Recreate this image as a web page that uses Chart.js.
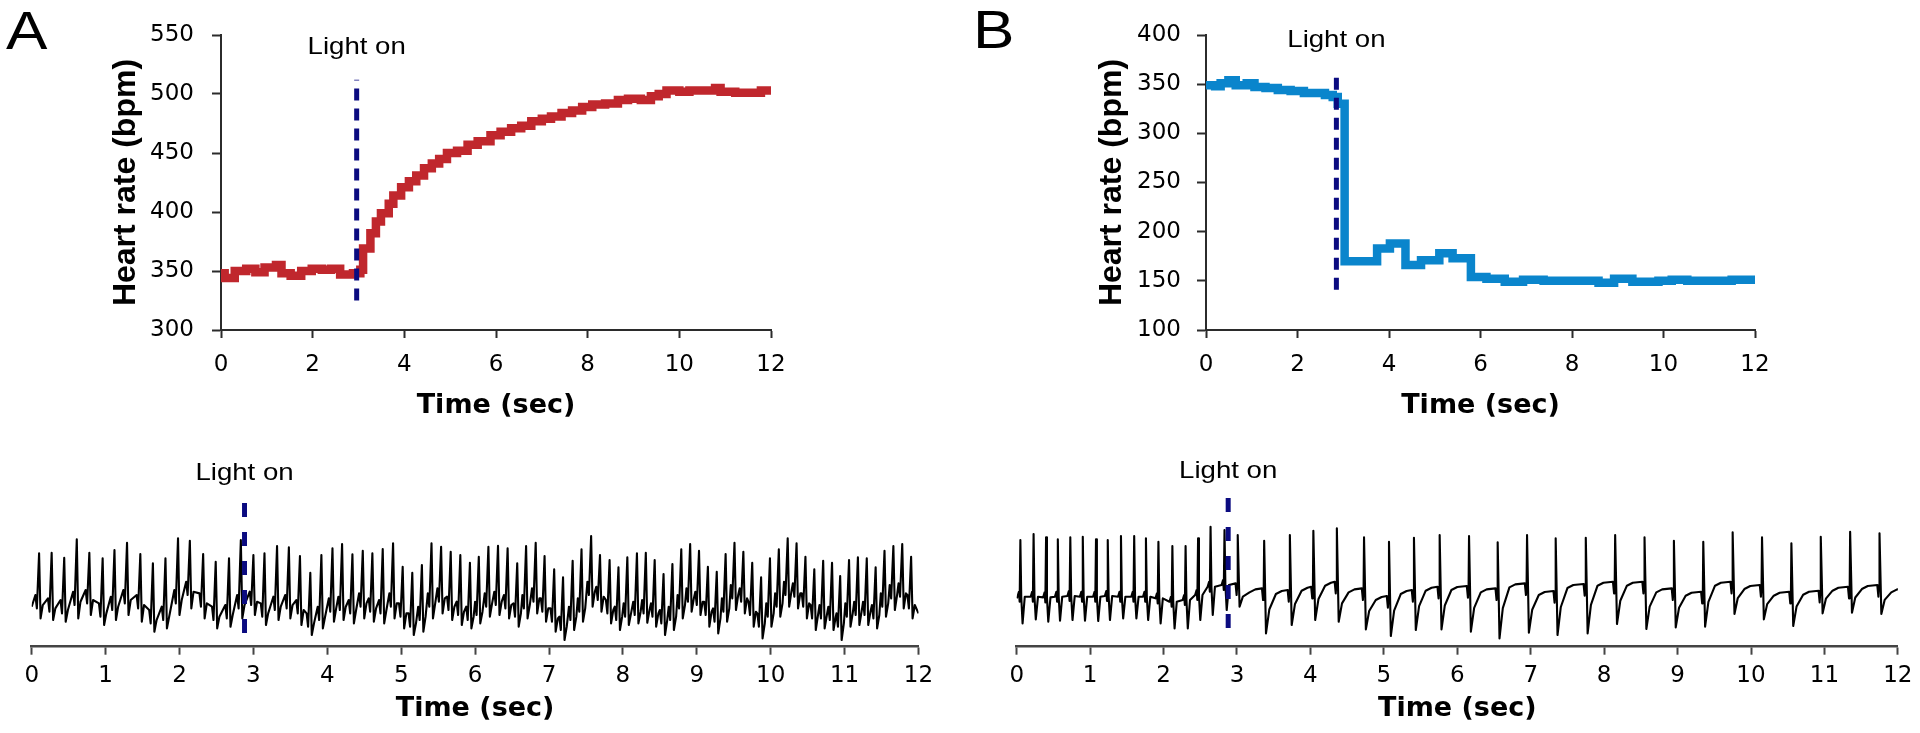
<!DOCTYPE html>
<html>
<head>
<meta charset="utf-8">
<script src="https://cdn.jsdelivr.net/npm/chart.js@4.4.1/dist/chart.umd.min.js"></script>
<style>
    body { margin: 0; background: #fff; width: 1920px; height: 733px; overflow: hidden; position: relative; }
    canvas { position: absolute; }
    .letter {
        position: absolute;
        font: 54px/54px 'Liberation Sans', Arial, sans-serif;
        color: #000;
        transform: scaleX(1.15);
        transform-origin: left top;
    }
</style>
</head>
<body>
<canvas id="hrA" width="960" height="450" style="left:0;top:0"></canvas>
<canvas id="hrB" width="960" height="450" style="left:960px;top:0"></canvas>
<canvas id="ecgA" width="960" height="283" style="left:0;top:450px"></canvas>
<canvas id="ecgB" width="960" height="283" style="left:960px;top:450px"></canvas>
<div class="letter" style="left:6px;top:3px">A</div>
<div class="letter" style="left:973px;top:2px">B</div>
<script>
// ---- heart rate traces (sec, bpm); each value holds until the next time ----
const hrATime = [0, 0.08, 0.3, 0.55, 0.75, 0.95, 1.2, 1.32, 1.52, 1.75, 1.98, 2.2, 2.4, 2.6, 2.88, 3.04,
    3.1, 3.26, 3.38, 3.49, 3.66, 3.76, 3.93, 4.1, 4.26, 4.43, 4.6, 4.76, 4.93, 5.15, 5.38, 5.6, 5.88,
    6.1, 6.33, 6.55, 6.77, 7.0, 7.2, 7.43, 7.66, 7.88, 8.1, 8.38, 8.66, 8.88, 9.16, 9.38, 9.55, 9.72,
    10.0, 10.22, 10.5, 10.78, 10.9, 11.22, 11.5, 11.78, 12.0];
const hrAValue = [348, 344, 350, 352, 349, 353, 355, 348, 346, 350, 352, 351, 352, 347, 348, 351,
    369, 382, 392, 399, 407, 414, 421, 426, 431, 437, 441, 445, 450, 452, 457, 460, 465,
    468, 471, 473, 477, 479, 481, 484, 486, 489, 491, 492, 495, 496, 495, 498, 500, 503,
    502, 503, 503, 505, 502, 501, 501, 503, 502];

const hrBTime = [0, 0.2, 0.32, 0.49, 0.65, 0.89, 1.06, 1.3, 1.57, 1.85, 2.14, 2.4, 2.6, 2.77, 2.88,
    3.03, 3.74, 4.02, 4.36, 4.7, 5.1, 5.39, 5.79, 6.13, 6.53, 6.93, 7.38, 8.07, 8.58, 8.92,
    9.32, 9.89, 10.18, 10.52, 11.15, 11.49, 12.0];
const hrBValue = [349, 348, 351, 354, 349, 351, 347, 346, 344, 343, 341, 341, 339, 337, 330,
    170, 183, 188, 166, 171, 178, 173, 154, 152, 149, 151, 150, 150, 148, 152,
    149, 150, 151, 150, 150, 151, 149];

const hrATicksY = [300, 550, 50];
const hrBTicksY = [100, 400, 50];

// ---- "Light on" marker: [time, from, to] ----
const lightA = [2.96, 325, 512];
const lightB = [2.85, 141, 364];
const lightEcgA = [2.88, 0.41, 4.35];
const lightEcgB = [2.88, 0.56, 4.49];

// ---- ECG A, one entry per beat (time s, spike top, baseline, trough; arbitrary units) ----
const ecgATime = [0.10, 0.27, 0.44, 0.61, 0.78, 0.96, 1.12,
    1.29, 1.47, 1.64, 1.81, 1.98, 2.14, 2.32,
    2.49, 2.67, 2.83, 3.00, 3.15, 3.32, 3.48,
    3.63, 3.77, 3.92, 4.07, 4.20, 4.34, 4.48,
    4.61, 4.75, 4.89, 5.02, 5.15, 5.28, 5.41,
    5.54, 5.67, 5.80, 5.93, 6.05, 6.18, 6.31,
    6.44, 6.57, 6.69, 6.82, 6.94, 7.07, 7.19,
    7.32, 7.44, 7.57, 7.69, 7.82, 7.94, 8.06,
    8.19, 8.31, 8.43, 8.55, 8.67, 8.79, 8.91,
    9.03, 9.15, 9.27, 9.39, 9.51, 9.63, 9.75,
    9.87, 9.99, 10.11, 10.23, 10.35, 10.47, 10.59,
    10.71, 10.83, 10.94, 11.06, 11.18, 11.30, 11.42,
    11.54, 11.66, 11.78, 11.90];
const ecgAPeak = [2.80, 2.82, 2.67, 3.22, 2.82, 2.65, 2.90,
    3.12, 2.78, 2.50, 2.65, 3.25, 3.18, 2.78,
    2.55, 2.65, 3.20, 2.75, 2.80, 3.02, 2.98,
    2.72, 2.22, 2.75, 2.95, 3.08, 2.77, 2.88,
    2.80, 2.93, 3.10, 2.40, 2.22, 2.45, 3.10,
    3.00, 2.85, 2.75, 2.52, 2.70, 3.00, 3.03,
    2.95, 2.50, 3.02, 3.12, 2.72, 2.32, 2.08,
    2.58, 2.92, 3.32, 2.75, 2.60, 2.38, 2.68,
    2.80, 2.82, 2.60, 2.18, 2.48, 2.92, 3.08,
    2.88, 2.40, 2.25, 2.78, 3.12, 2.85, 2.52,
    2.08, 2.65, 2.92, 3.25, 3.10, 2.70, 2.32,
    2.58, 2.52, 2.12, 2.60, 2.68, 2.65, 2.38,
    2.88, 3.02, 3.08, 2.70];
const ecgABase = [1.15, 1.05, 1.00, 1.25, 1.30, 0.90, 1.10,
    1.30, 1.15, 0.70, 0.80, 1.30, 1.55, 1.20,
    0.80, 0.85, 1.15, 1.25, 0.90, 1.10, 1.15,
    1.00, 0.60, 0.80, 1.05, 1.10, 1.00, 1.20,
    1.05, 1.00, 1.20, 0.90, 0.60, 0.80, 1.20,
    1.35, 1.10, 0.95, 0.80, 0.95, 1.20, 1.25,
    1.15, 0.90, 1.15, 1.35, 1.05, 0.75, 0.50,
    0.80, 1.05, 1.55, 1.40, 1.00, 0.80, 0.90,
    0.95, 1.00, 0.90, 0.70, 0.80, 1.15, 1.35,
    1.25, 0.95, 0.75, 1.05, 1.45, 1.35, 0.95,
    0.60, 0.90, 1.20, 1.55, 1.50, 1.20, 0.85,
    0.85, 0.80, 0.60, 0.90, 0.95, 0.95, 0.85,
    1.20, 1.45, 1.50, 1.15];
const ecgATrough = [0.85, 0.80, 0.75, 0.85, 0.95, 0.65, 0.80,
    0.95, 0.75, 0.45, 0.55, 0.95, 1.15, 0.85,
    0.55, 0.60, 0.85, 0.95, 0.65, 0.80, 0.85,
    0.65, 0.35, 0.55, 0.75, 0.80, 0.70, 0.85,
    0.75, 0.70, 0.85, 0.55, 0.35, 0.45, 0.85,
    1.00, 0.80, 0.65, 0.55, 0.70, 0.90, 0.95,
    0.85, 0.60, 0.85, 1.00, 0.75, 0.45, 0.20,
    0.50, 0.75, 1.20, 1.05, 0.70, 0.50, 0.65,
    0.70, 0.72, 0.60, 0.35, 0.50, 0.85, 1.05,
    0.95, 0.60, 0.40, 0.75, 1.10, 1.00, 0.60,
    0.25, 0.60, 0.90, 1.20, 1.15, 0.85, 0.50,
    0.55, 0.50, 0.20, 0.60, 0.65, 0.65, 0.55,
    0.90, 1.10, 1.15, 0.85];
const ecgAStart = 1.2;
const ecgAEnd = 1.0;

// ---- ECG B, fast beats before light ----
const ecgBFastTime = [0.05, 0.23, 0.40, 0.56, 0.73, 0.90, 1.08, 1.24, 1.42, 1.60, 1.76, 1.93, 2.12, 2.30, 2.47, 2.64, 2.83];
const ecgBFastPeak = [3.20, 3.38, 3.28, 3.22, 3.28, 3.30, 3.22, 3.20, 3.32, 3.32, 3.25, 3.15, 3.02, 3.02, 3.25, 3.60, 3.50];
const ecgBFastTrough = [0.70, 0.82, 0.75, 0.78, 0.80, 0.78, 0.77, 0.80, 0.85, 0.85, 0.80, 0.70, 0.55, 0.55, 0.80, 0.95, 1.10];
const ecgBFastBase = [1.50, 1.50, 1.48, 1.50, 1.52, 1.50, 1.50, 1.52, 1.50, 1.50, 1.50, 1.45, 1.35, 1.40, 1.55, 1.80, 1.85];
// ---- ECG B, slow beats after light ----
const ecgBSlowTime = [3.01, 3.37, 3.72, 4.04, 4.36, 4.73, 5.07, 5.41, 5.76, 6.16, 6.55, 6.95, 7.34, 7.75, 8.15, 8.55, 8.95, 9.35, 9.75, 10.15, 10.55, 10.95, 11.35, 11.75];
const ecgBSlowPeak = [3.35, 3.18, 3.35, 3.48, 3.55, 3.28, 3.15, 3.27, 3.35, 3.32, 3.13, 3.35, 3.25, 3.27, 3.35, 3.28, 3.18, 3.15, 3.43, 3.28, 3.10, 3.30, 3.45, 3.40];
const ecgBSlowTrough = [1.20, 0.40, 0.65, 0.80, 0.75, 0.52, 0.32, 0.50, 0.52, 0.45, 0.25, 0.42, 0.35, 0.40, 0.68, 0.53, 0.58, 0.60, 0.98, 0.82, 0.62, 1.00, 1.02, 0.98];
const ecgBSlowPlateau = [1.90, 1.75, 1.70, 1.80, 1.95, 1.75, 1.52, 1.70, 1.80, 1.82, 1.75, 1.90, 1.67, 1.88, 1.95, 1.95, 1.75, 1.65, 1.95, 1.85, 1.65, 1.68, 1.80, 1.85];
const ecgBStart = 1.45;
const ecgBEnd = 1.75;

const ecgTicks = [0, 12, 1];

const NAVY = '#0b0b80';
const AXIS = '#2b2b2b';
const TICK_FONT = { family: "'DejaVu Sans', sans-serif", size: 23 };

Chart.defaults.font.family = "'DejaVu Sans', sans-serif";
Chart.defaults.color = '#000';

function pairs(xs, ys) {
    return xs.map((x, i) => ({ x: x, y: ys[i] }));
}

function lightLine(m) {
    return [{ x: m[0], y: m[1] }, { x: m[0], y: m[2] }];
}

function buildEcgA() {
    const pts = [{ x: 0, y: ecgAStart }];
    ecgATime.forEach((t, i) => {
        const b = ecgABase[i];
        pts.push({ x: t - 0.05, y: b + 0.4 }, { x: t - 0.03, y: b },
            { x: t, y: ecgAPeak[i] }, { x: t + 0.02, y: ecgATrough[i] }, { x: t + 0.05, y: b + 0.1 });
    });
    pts.push({ x: 12, y: ecgAEnd });
    return pts;
}

function buildEcgB() {
    const pts = [{ x: 0, y: ecgBStart }];
    ecgBFastTime.forEach((t, i) => {
        const b = ecgBFastBase[i];
        pts.push({ x: t - 0.04, y: b }, { x: t - 0.02, y: b + 0.15 }, { x: t - 0.01, y: b - 0.15 },
            { x: t, y: ecgBFastPeak[i] }, { x: t + 0.012, y: b }, { x: t + 0.03, y: ecgBFastTrough[i] },
            { x: t + 0.06, y: b });
    });
    ecgBSlowTime.forEach((t, i) => {
        const p = ecgBSlowPlateau[i];
        const pn = i + 1 < ecgBSlowPlateau.length ? ecgBSlowPlateau[i + 1] : ecgBEnd;
        const tr = ecgBSlowTrough[i];
        pts.push({ x: t - 0.03, y: p }, { x: t - 0.015, y: p - 0.35 }, { x: t - 0.006, y: p },
            { x: t, y: ecgBSlowPeak[i] }, { x: t + 0.025, y: tr },
            { x: t + 0.07, y: tr + (pn - tr) * 0.55 }, { x: t + 0.16, y: pn - 0.12 }, { x: t + 0.24, y: pn - 0.03 });
    });
    pts.push({ x: 12, y: ecgBEnd });
    return pts;
}

// "Light on" label above the dashed marker
function lightLabel(at, py) {
    return {
        id: 'lightLabel',
        afterDraw(chart) {
            const ctx = chart.ctx;
            ctx.save();
            ctx.font = "24px 'Liberation Sans', Arial, sans-serif";
            ctx.fillStyle = '#000';
            ctx.textBaseline = 'alphabetic';
            ctx.textAlign = 'center';
            ctx.translate(chart.scales.x.getPixelForValue(at), py);
            ctx.scale(1.15, 1);
            ctx.fillText('Light on', 0, 0);
            ctx.restore();
        }
    };
}

function hrChart(id, times, values, color, yTicks, light, opts) {
    new Chart(document.getElementById(id), {
        type: 'line',
        data: {
            datasets: [
                {
                    data: lightLine(light),
                    borderColor: NAVY,
                    borderWidth: 5,
                    borderDash: [12, 8],
                    pointRadius: 0,
                    order: 0
                },
                {
                    data: pairs(times, values),
                    stepped: true,
                    borderColor: color,
                    borderWidth: 8.5,
                    borderJoinStyle: 'miter',
                    pointRadius: 0,
                    order: 1
                }
            ]
        },
        plugins: [lightLabel(light[0], opts.lightY)],
        options: {
            responsive: false,
            animation: false,
            layout: { padding: { left: 0, right: opts.padRight, top: 35, bottom: 20 } },
            plugins: {
                legend: { display: false },
                tooltip: { enabled: false }
            },
            scales: {
                x: {
                    type: 'linear',
                    min: 0,
                    max: 12,
                    afterFit: s => { s.height = 100; },
                    ticks: { stepSize: 2, padding: 13, color: '#000', font: TICK_FONT, maxRotation: 0 },
                    grid: { drawOnChartArea: false, drawTicks: true, tickLength: 8, tickWidth: 2, tickColor: AXIS },
                    border: { display: true, color: AXIS, width: 2 },
                    title: {
                        display: true,
                        text: 'Time (sec)',
                        color: '#000',
                        font: { family: "'DejaVu Sans', sans-serif", size: 27, weight: 'bold' },
                        padding: { top: 0, bottom: 7.8 }
                    }
                },
                y: {
                    min: yTicks[0],
                    max: yTicks[1],
                    afterFit: s => { s.width = opts.yWidth; },
                    ticks: { stepSize: yTicks[2], padding: opts.yTickPad, color: '#000', font: TICK_FONT },
                    grid: { drawOnChartArea: false, drawTicks: true, tickLength: 9, tickWidth: 2, tickColor: AXIS },
                    border: { display: true, color: AXIS, width: 2 },
                    title: {
                        display: true,
                        text: 'Heart rate (bpm)',
                        color: '#000',
                        font: { family: "'Liberation Sans', Arial, sans-serif", size: 32, weight: 'bold' },
                        padding: { top: opts.yTitlePad, bottom: 0 }
                    }
                }
            }
        }
    });
}

function ecgChart(id, points, light, opts) {
    new Chart(document.getElementById(id), {
        type: 'line',
        data: {
            datasets: [
                {
                    data: lightLine(light),
                    borderColor: NAVY,
                    borderWidth: 5,
                    borderDash: [14, 15],
                    pointRadius: 0,
                    order: 0
                },
                {
                    data: points,
                    borderColor: '#000',
                    borderWidth: 2.1,
                    borderJoinStyle: 'round',
                    pointRadius: 0,
                    order: 1
                }
            ]
        },
        plugins: [lightLabel(light[0], opts.lightY)],
        options: {
            responsive: false,
            animation: false,
            layout: { padding: { left: opts.padLeft, right: opts.padRight, top: 46.7, bottom: 0 } },
            plugins: {
                legend: { display: false },
                tooltip: { enabled: false }
            },
            scales: {
                x: {
                    type: 'linear',
                    min: ecgTicks[0],
                    max: ecgTicks[1],
                    afterFit: s => { s.height = 86.3; },
                    ticks: { stepSize: ecgTicks[2], padding: 7.5, color: '#000', font: TICK_FONT, maxRotation: 0, autoSkip: false },
                    grid: { drawOnChartArea: false, drawTicks: true, tickLength: 8, tickWidth: 2, tickColor: '#444' },
                    border: { display: true, color: '#444', width: 2.5 },
                    title: {
                        display: true,
                        text: 'Time (sec)',
                        color: '#000',
                        font: { family: "'DejaVu Sans', sans-serif", size: 27, weight: 'bold' },
                        padding: { top: 0, bottom: 7.8 }
                    }
                },
                y: { display: false, min: 0, max: 4.5 }
            }
        }
    });
}

hrChart('hrA', hrATime, hrAValue, '#c0272d', hrATicksY, lightA,
    { padRight: 189, yWidth: 221, yTickPad: 18, yTitlePad: 107, lightY: 54 });
hrChart('hrB', hrBTime, hrBValue, '#0a85cc', hrBTicksY, lightB,
    { padRight: 165, yWidth: 246, yTickPad: 16, yTitlePad: 132.8, lightY: 47 });
ecgChart('ecgA', buildEcgA(), lightEcgA, { padLeft: 31.7, padRight: 41.5, lightY: 30 });
ecgChart('ecgB', buildEcgB(), lightEcgB, { padLeft: 56.7, padRight: 18.3, lightY: 28 });
</script>
</body>
</html>
